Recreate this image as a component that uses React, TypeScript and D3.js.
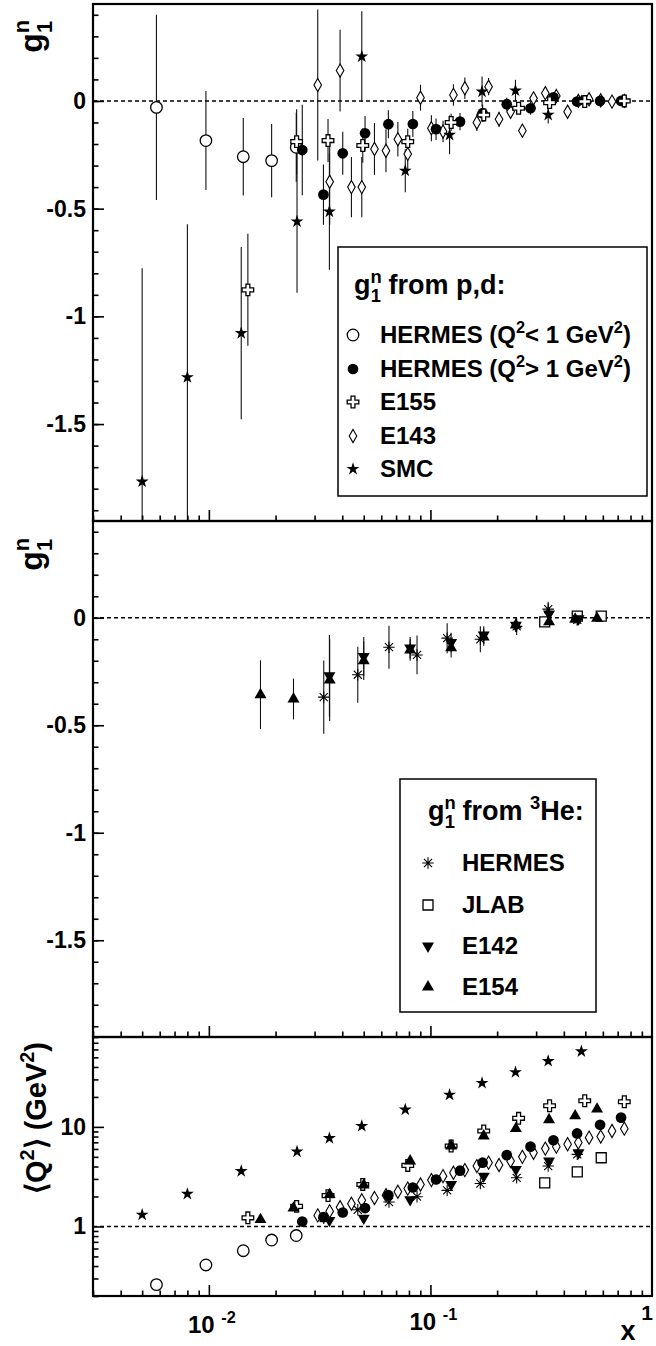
import React, { useEffect, useRef } from 'react';
import * as d3 from 'd3';

// ---- g1n from p,d (top panel) + <Q2> (bottom panel) ----
const hermesLowX = [0.0058, 0.0097, 0.0143, 0.0192, 0.0248];
const hermesLowG1 = [-0.03, -0.184, -0.259, -0.277, -0.215];
const hermesLowErr = [0.43, 0.23, 0.18, 0.17, 0.16];
const hermesLowQ2 = [0.26, 0.41, 0.57, 0.73, 0.81];

const hermesHighX = [0.0264, 0.0329, 0.0402, 0.0507, 0.0646, 0.0833, 0.106, 0.136, 0.172, 0.221, 0.283, 0.359, 0.459, 0.583, 0.725];
const hermesHighG1 = [-0.228, -0.435, -0.243, -0.15, -0.108, -0.107, -0.131, -0.096, -0.057, -0.015, -0.034, 0.017, -0.003, 0.0, 0.0];
const hermesHighErr = [0.21, 0.14, 0.1, 0.08, 0.065, 0.06, 0.05, 0.04, 0.04, 0.03, 0.03, 0.02, 0.02, 0.015, 0.01];
const hermesHighQ2 = [1.12, 1.24, 1.38, 1.53, 2.06, 2.46, 2.96, 3.63, 4.37, 5.2, 6.33, 7.34, 8.6, 10.5, 12.4];

const e155X = [0.015, 0.0249, 0.0345, 0.0495, 0.079, 0.124, 0.174, 0.25, 0.345, 0.497, 0.75];
const e155G1 = [-0.877, -0.189, -0.184, -0.207, -0.189, -0.1, -0.065, -0.034, -0.008, -0.003, 0.0];
const e155Err = [0.26, 0.15, 0.1, 0.08, 0.06, 0.04, 0.03, 0.02, 0.015, 0.01, 0.01];
const e155Q2 = [1.22, 1.59, 2.04, 2.64, 4.1, 6.43, 9.1, 12.2, 16.3, 18.3, 17.9];

const e143X = [0.031, 0.0351, 0.0391, 0.044, 0.049, 0.0559, 0.063, 0.0713, 0.079, 0.0902, 0.101, 0.114, 0.127, 0.143, 0.162, 0.183, 0.204, 0.23, 0.26, 0.292, 0.33, 0.37, 0.416, 0.465, 0.52, 0.587, 0.66, 0.75];
const e143G1 = [0.074, -0.375, 0.141, -0.4, -0.4, -0.223, -0.231, -0.178, -0.246, 0.015, -0.127, -0.142, 0.028, 0.059, -0.1, 0.066, -0.085, -0.05, -0.138, 0.012, 0.036, 0.023, -0.05, 0.0, 0.008, 0.003, -0.003, 0.0];
const e143Err = [0.35, 0.2, 0.19, 0.14, 0.14, 0.12, 0.1, 0.08, 0.08, 0.06, 0.06, 0.05, 0.05, 0.05, 0.04, 0.04, 0.035, 0.03, 0.03, 0.03, 0.025, 0.02, 0.02, 0.02, 0.015, 0.01, 0.01, 0.01];
const e143Q2 = [1.29, 1.42, 1.56, 1.69, 1.83, 1.93, 2.06, 2.23, 2.4, 2.64, 2.92, 3.2, 3.46, 3.68, 4.04, 4.37, 4.14, 4.54, 5.0, 5.5, 6.05, 6.33, 6.7, 6.96, 7.8, 8.0, 9.1, 9.6];

const smcX = [0.005, 0.008, 0.014, 0.025, 0.035, 0.049, 0.077, 0.122, 0.171, 0.242, 0.34, 0.48];
const smcG1 = [-1.767, -1.283, -1.078, -0.56, -0.514, 0.206, -0.324, -0.158, 0.043, 0.048, -0.065, 0.0];
const smcErr = [0.99, 0.71, 0.4, 0.33, 0.27, 0.21, 0.1, 0.09, 0.07, 0.05, 0.04, 0.02];
const smcQ2 = [1.31, 2.12, 3.59, 5.64, 7.7, 10.2, 14.9, 21.0, 27.6, 35.4, 45.8, 57.3];

// ---- g1n from 3He (middle panel) + <Q2> ----
const heHermesX = [0.033, 0.047, 0.065, 0.087, 0.119, 0.168, 0.245, 0.34, 0.46];
const heHermesG1 = [-0.369, -0.265, -0.137, -0.173, -0.095, -0.1, -0.04, 0.04, -0.01];
const heHermesErr = [0.17, 0.13, 0.1, 0.09, 0.07, 0.06, 0.04, 0.035, 0.025];
const heHermesQ2 = [1.21, 1.47, 1.76, 1.99, 2.3, 2.7, 3.08, 4.04, 5.3];

const jlabX = [0.328, 0.46, 0.59];
const jlabG1 = [-0.019, 0.008, 0.008];
const jlabErr = [0.02, 0.02, 0.02];
const jlabQ2 = [2.74, 3.54, 4.9];

const e142X = [0.035, 0.05, 0.081, 0.124, 0.174, 0.243, 0.343, 0.466];
const e142G1 = [-0.27, -0.18, -0.14, -0.115, -0.08, -0.035, 0.018, -0.005];
const e142Err = [0.19, 0.09, 0.05, 0.045, 0.04, 0.03, 0.03, 0.02];
const e142Q2 = [1.15, 1.21, 1.86, 2.64, 3.2, 3.74, 4.54, 5.5];

const e154X = [0.0171, 0.0241, 0.0351, 0.05, 0.081, 0.124, 0.174, 0.243, 0.343, 0.45, 0.565];
const e154G1 = [-0.358, -0.378, -0.29, -0.2, -0.15, -0.14, -0.09, -0.034, -0.019, -0.007, -0.003];
const e154Err = [0.16, 0.095, 0.19, 0.09, 0.05, 0.045, 0.04, 0.03, 0.025, 0.02, 0.015];
const e154Q2 = [1.17, 1.53, 2.09, 2.6, 4.54, 6.43, 8.1, 9.6, 11.8, 12.9, 15.1];

// ---- axes ----
const xMajor = [0.01, 0.1];
const xMinor = [0.003, 0.004, 0.005, 0.006, 0.007, 0.008, 0.009, 0.02, 0.03, 0.04, 0.05, 0.06, 0.07, 0.08, 0.09, 0.2, 0.3, 0.4, 0.5, 0.6, 0.7, 0.8, 0.9];
const g1Major = [-1.5, -1, -0.5, 0];
const g1Labels = ['-1.5', '-1', '-0.5', '0'];
const g1Minor = d3.range(-19, 5).map((d) => d / 10);
const q2Major = [1, 10];
const q2Labels = ['1', '10'];
const q2Minor = [0.2, 0.3, 0.4, 0.5, 0.6, 0.7, 0.8, 0.9, 2, 3, 4, 5, 6, 7, 8, 9, 20, 30, 40, 50, 60, 70, 80];

const FONT = '"Liberation Sans", Arial, Helvetica, sans-serif';

// 8-ray asterisk (ROOT marker 3)
const asterisk8 = {
  draw(ctx: any, size: number) {
    const r = Math.sqrt(size) / 2;
    const d = r * Math.SQRT1_2;
    ctx.moveTo(-r, 0); ctx.lineTo(r, 0);
    ctx.moveTo(0, -r); ctx.lineTo(0, r);
    ctx.moveTo(-d, -d); ctx.lineTo(d, d);
    ctx.moveTo(-d, d); ctx.lineTo(d, -d);
  },
};

type Part = string | { sup: string } | { sub: string } | { stack: string };

const App: React.FC = () => {
  const ref = useRef<SVGSVGElement>(null);

  useEffect(() => {
    if (!ref.current) return;
    const svg = d3.select(ref.current);
    svg.selectAll('*').remove();

    const left = 93;
    const right = 652;
    const p1 = { top: 4, bottom: 521 };
    const p2 = { top: 521, bottom: 1037 };
    const p3 = { top: 1037, bottom: 1296 };

    const x = d3.scaleLog().domain([0.003, 1]).range([left, right]);
    const y1 = d3.scaleLinear().domain([-1.95, 0.45]).range([p1.bottom, p1.top]);
    const y2 = d3.scaleLinear().domain([-1.95, 0.45]).range([p2.bottom, p2.top]);
    const y3 = d3.scaleLog().domain([0.2, 80]).range([p3.bottom, p3.top]);

    const styles: Record<string, any> = {
      hermesLow: { type: d3.symbolCircle, size: 105, fill: '#fff', stroke: '#000', sw: 1.3 },
      hermesHigh: { type: d3.symbolCircle, size: 90, fill: '#000', stroke: 'none', sw: 0 },
      e155: { type: d3.symbolCross, size: 75, fill: '#fff', stroke: '#000', sw: 1.3 },
      e143: { type: d3.symbolDiamond, size: 50, fill: '#fff', stroke: '#000', sw: 1.1 },
      smc: { type: d3.symbolStar, size: 52, fill: '#000', stroke: 'none', sw: 0 },
      heHermes: { type: asterisk8, size: 130, fill: 'none', stroke: '#000', sw: 1.1 },
      jlab: { type: d3.symbolSquare, size: 100, fill: '#fff', stroke: '#000', sw: 1.3 },
      e142: { type: d3.symbolTriangle, size: 62, fill: '#000', stroke: 'none', sw: 0, rot: 180 },
      e154: { type: d3.symbolTriangle, size: 62, fill: '#000', stroke: 'none', sw: 0 },
    };

    const pdSeries = [
      { key: 'hermesLow', x: hermesLowX, g1: hermesLowG1, err: hermesLowErr, q2: hermesLowQ2 },
      { key: 'e143', x: e143X, g1: e143G1, err: e143Err, q2: e143Q2 },
      { key: 'smc', x: smcX, g1: smcG1, err: smcErr, q2: smcQ2 },
      { key: 'hermesHigh', x: hermesHighX, g1: hermesHighG1, err: hermesHighErr, q2: hermesHighQ2 },
      { key: 'e155', x: e155X, g1: e155G1, err: e155Err, q2: e155Q2 },
    ];
    const heSeries = [
      { key: 'heHermes', x: heHermesX, g1: heHermesG1, err: heHermesErr, q2: heHermesQ2 },
      { key: 'jlab', x: jlabX, g1: jlabG1, err: jlabErr, q2: jlabQ2 },
      { key: 'e142', x: e142X, g1: e142G1, err: e142Err, q2: e142Q2 },
      { key: 'e154', x: e154X, g1: e154G1, err: e154Err, q2: e154Q2 },
    ];

    // clip paths for each panel
    const defs = svg.append('defs');
    [p1, p2, p3].forEach((p, i) => {
      defs.append('clipPath').attr('id', 'clip' + i)
        .append('rect').attr('x', left).attr('y', p.top)
        .attr('width', right - left).attr('height', p.bottom - p.top);
    });

    const marker = (g: any, key: string, cx: number, cy: number) => {
      const s = styles[key];
      g.append('path')
        .attr('d', d3.symbol().type(s.type).size(s.size)())
        .attr('transform', `translate(${cx},${cy})` + (s.rot ? ` rotate(${s.rot})` : ''))
        .attr('fill', s.fill)
        .attr('stroke', s.stroke)
        .attr('stroke-width', s.sw);
    };

    const rich = (g: any, px: number, py: number, parts: Part[], fs: number, anchor = 'start', transform?: string) => {
      const t = g.append('text')
        .attr('x', px).attr('y', py)
        .attr('font-size', fs).attr('font-weight', 'bold')
        .attr('font-family', FONT).attr('text-anchor', anchor).attr('fill', '#000');
      if (transform) t.attr('transform', transform);
      let shift = 0;
      let lastSmall = '';
      parts.forEach((p) => {
        if (typeof p === 'string') {
          t.append('tspan').attr('dy', -shift).text(p);
          shift = 0;
        } else if ('sup' in p) {
          const s = -0.42 * fs;
          t.append('tspan').attr('dy', s - shift).attr('font-size', fs * 0.68).text(p.sup);
          shift = s;
          lastSmall = p.sup;
        } else if ('sub' in p) {
          const s = 0.28 * fs;
          t.append('tspan').attr('dy', s - shift).attr('font-size', fs * 0.68).text(p.sub);
          shift = s;
        } else {
          // subscript stacked under the previous superscript
          const s = 0.3 * fs;
          t.append('tspan').attr('dx', -0.6 * fs * 0.68 * lastSmall.length)
            .attr('dy', s - shift).attr('font-size', fs * 0.68).text(p.stack);
          shift = s;
        }
      });
      return t;
    };

    const drawPanel = (yScale: any, series: any[], clipId: string, dashAt: number, useQ2: boolean) => {
      const g = svg.append('g').attr('clip-path', `url(#${clipId})`);
      g.append('line')
        .attr('x1', left).attr('x2', right)
        .attr('y1', yScale(dashAt)).attr('y2', yScale(dashAt))
        .attr('stroke', '#000').attr('stroke-width', 1.4).attr('stroke-dasharray', '4,3');
      if (!useQ2) {
        series.forEach((s) => {
          s.x.forEach((xv: number, i: number) => {
            g.append('line')
              .attr('x1', x(xv)).attr('x2', x(xv))
              .attr('y1', yScale(s.g1[i] + s.err[i])).attr('y2', yScale(s.g1[i] - s.err[i]))
              .attr('stroke', '#111').attr('stroke-width', 1.1);
          });
        });
      }
      series.forEach((s) => {
        s.x.forEach((xv: number, i: number) => {
          marker(g, s.key, x(xv), yScale(useQ2 ? s.q2[i] : s.g1[i]));
        });
      });
    };

    drawPanel(y1, pdSeries, 'clip0', 0, false);
    drawPanel(y2, heSeries, 'clip1', 0, false);
    drawPanel(y3, [...pdSeries, ...heSeries], 'clip2', 1, true);

    // axes
    const styleAxis = (ag: any, fs: number) => {
      ag.attr('font-family', FONT).attr('font-size', fs).attr('font-weight', 'bold');
      ag.select('.domain').remove();
      ag.selectAll('line').attr('stroke', '#000').attr('stroke-width', 1.6);
      ag.selectAll('text').attr('fill', '#000');
    };

    const yAxis = (scale: any, major: number[], labels: string[], minor: number[]) => {
      const a = svg.append('g').attr('transform', `translate(${left},0)`);
      a.call(d3.axisLeft(scale).tickValues(major).tickSizeInner(-11).tickSizeOuter(0).tickPadding(7)
        .tickFormat((d: any, i: number) => labels[i]));
      styleAxis(a, 23);
      const m = svg.append('g').attr('transform', `translate(${left},0)`);
      m.call(d3.axisLeft(scale).tickValues(minor).tickSizeInner(-5.5).tickSizeOuter(0).tickFormat(() => ''));
      styleAxis(m, 10);
    };
    yAxis(y1, g1Major, g1Labels, g1Minor.filter((d) => d > -1.95 && d < 0.45));
    yAxis(y2, g1Major, g1Labels, g1Minor.filter((d) => d > -1.95 && d < 0.45));
    yAxis(y3, q2Major, q2Labels, q2Minor);

    [p1, p2, p3].forEach((p) => {
      const a = svg.append('g').attr('transform', `translate(0,${p.bottom})`);
      a.call(d3.axisBottom(x).tickValues(xMajor).tickSizeInner(-11).tickSizeOuter(0).tickFormat(() => ''));
      styleAxis(a, 10);
      const m = svg.append('g').attr('transform', `translate(0,${p.bottom})`);
      m.call(d3.axisBottom(x).tickValues(xMinor).tickSizeInner(-5.5).tickSizeOuter(0).tickFormat(() => ''));
      styleAxis(m, 10);
    });

    // frames
    [p1, p2, p3].forEach((p) => {
      svg.append('rect')
        .attr('x', left).attr('y', p.top)
        .attr('width', right - left).attr('height', p.bottom - p.top)
        .attr('fill', 'none').attr('stroke', '#000').attr('stroke-width', 2.2);
    });

    // x tick labels
    const xl = svg.append('g');
    rich(xl, x(0.01) + 3, 1333, ['10 ', { sup: '-2' }], 24, 'middle');
    rich(xl, x(0.1) + 3, 1330, ['10 ', { sup: '-1' }], 24, 'middle');
    rich(xl, x(1) - 5, 1320, ['1'], 21, 'middle');
    rich(xl, 628, 1340, ['x'], 27, 'middle');

    // y axis titles
    rich(svg, 0, 0, ['g', { sup: 'n' }, { stack: '1' }], 32, 'end', 'translate(42,20) rotate(-90)');
    rich(svg, 0, 0, ['g', { sup: 'n' }, { stack: '1' }], 32, 'end', 'translate(42,538) rotate(-90)');
    rich(svg, 0, 0, ['\u27e8Q', { sup: '2' }, '\u27e9 (GeV', { sup: '2' }, ')'], 29, 'middle', 'translate(46,1118) rotate(-90)');

    // legend p,d
    const l1 = svg.append('g');
    l1.append('rect').attr('x', 338).attr('y', 247).attr('width', 309).attr('height', 249)
      .attr('fill', '#fff').attr('stroke', '#000').attr('stroke-width', 1.5);
    rich(l1, 354, 294, ['g', { sup: 'n' }, { stack: '1' }, ' from p,d:'], 27);
    const l1Keys = ['hermesLow', 'hermesHigh', 'e155', 'e143', 'smc'];
    const l1Labels: Part[][] = [
      ['HERMES (Q', { sup: '2' }, '< 1 GeV', { sup: '2' }, ')'],
      ['HERMES (Q', { sup: '2' }, '> 1 GeV', { sup: '2' }, ')'],
      ['E155'],
      ['E143'],
      ['SMC'],
    ];
    const l1Base = [343, 377, 410, 444, 477];
    l1Keys.forEach((k, i) => {
      marker(l1, k, 353, l1Base[i] - 8);
      rich(l1, 380, l1Base[i], l1Labels[i], 24);
    });

    // legend 3He
    const l2 = svg.append('g');
    l2.append('rect').attr('x', 400).attr('y', 779).attr('width', 196).attr('height', 233)
      .attr('fill', '#fff').attr('stroke', '#000').attr('stroke-width', 1.5);
    rich(l2, 428, 820, ['g', { sup: 'n' }, { stack: '1' }, ' from ', { sup: '3' }, 'He:'], 27);
    const l2Keys = ['heHermes', 'jlab', 'e142', 'e154'];
    const l2Labels = ['HERMES', 'JLAB', 'E142', 'E154'];
    const l2Base = [871, 913, 954, 995];
    l2Keys.forEach((k, i) => {
      marker(l2, k, 428, l2Base[i] - 8);
      rich(l2, 462, l2Base[i], [l2Labels[i]], 24);
    });
  }, []);

  return (
    <svg
      ref={ref}
      width={656}
      height={1346}
      style={{ position: 'absolute', left: 0, top: 0, background: '#fff' }}
    />
  );
};

export default App;
